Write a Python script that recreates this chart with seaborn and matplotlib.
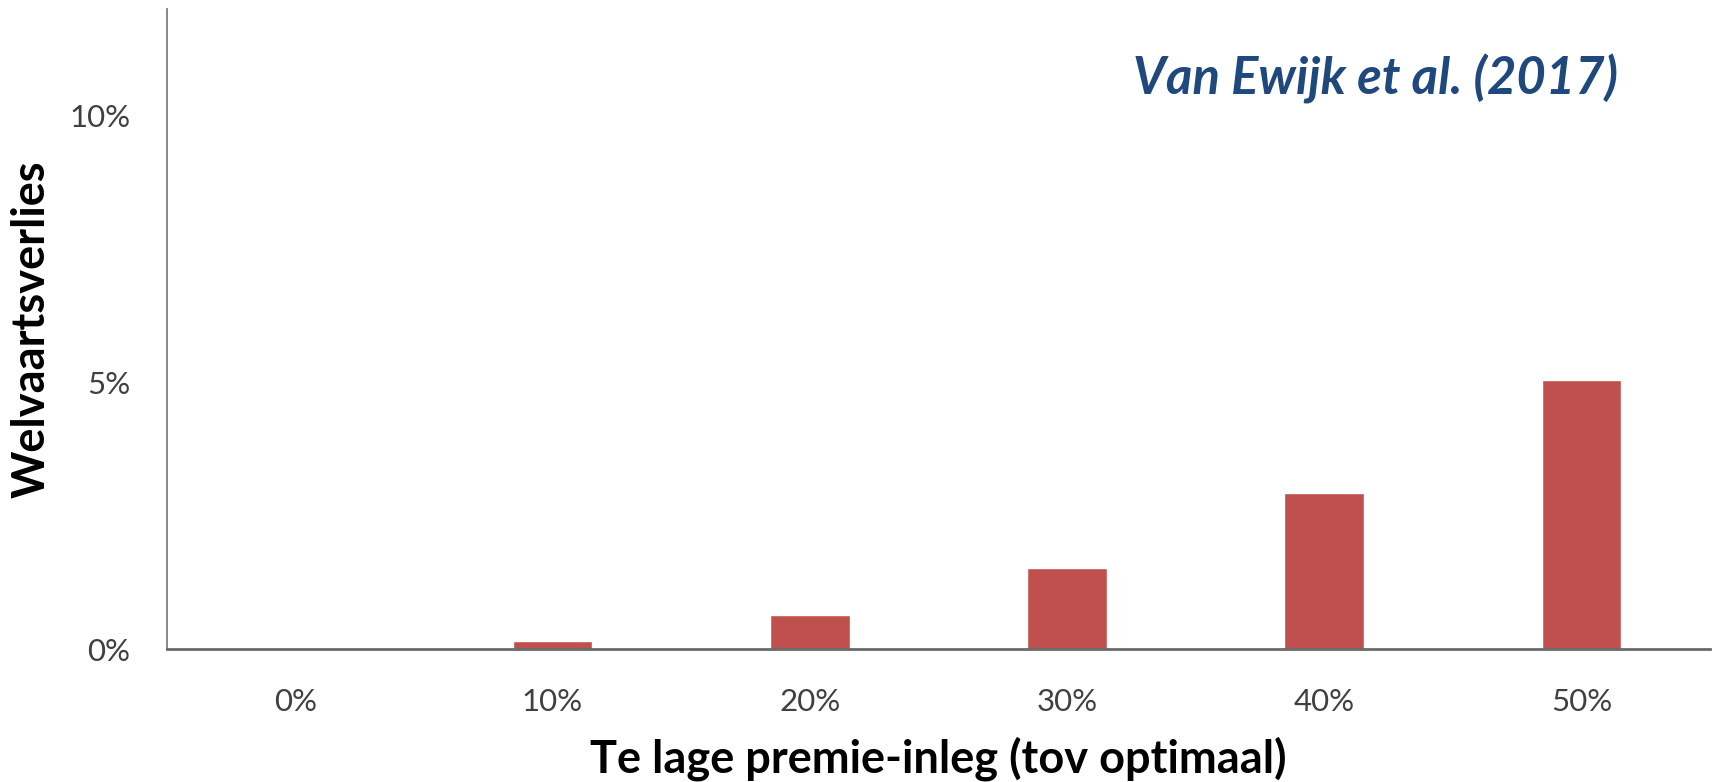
import matplotlib
matplotlib.use("Agg")
import matplotlib.pyplot as plt
import seaborn as sns
import pandas as pd

categories = ["0%", "10%", "20%", "30%", "40%", "50%"]
welfare_loss = [0.0, 0.15, 0.63, 1.52, 2.93, 5.04]
ytick_values = [0, 5, 10]
ytick_labels = ["0%", "5%", "10%"]

sns.set_theme(style="white")
plt.rcParams["font.family"] = ["Lato", "DejaVu Sans"]

df = pd.DataFrame({"cat": categories, "val": welfare_loss})

fig = plt.figure(figsize=(17.17, 7.82), dpi=100)
ax = fig.add_axes([0.097, 0.170, 0.899, 0.8185])

sns.barplot(data=df, x="cat", y="val", color="#C0504D", saturation=1,
            width=0.31, ax=ax)

ax.set_xlim(-0.5, 5.5)
ax.set_ylim(0, 12)
ax.set_yticks(ytick_values)
ax.set_yticklabels(ytick_labels)
ax.tick_params(axis="both", length=0, labelsize=22.5, labelcolor="#404040")
ax.tick_params(axis="x", pad=28)
ax.tick_params(axis="y", pad=26)

for s in ["top", "right"]:
    ax.spines[s].set_visible(False)
ax.spines["left"].set_color("#7f7f7f")
ax.spines["left"].set_linewidth(1.3)
ax.spines["bottom"].set_color("#6a6a6a")
ax.spines["bottom"].set_linewidth(2)

ax.set_xlabel("Te lage premie-inleg (tov optimaal)", fontsize=32.5,
              fontweight="bold", color="black", labelpad=15)
ax.set_ylabel("Welvaartsverlies", fontsize=32.5, fontweight="bold",
              color="black", labelpad=12)

ax.text(0.94, 0.89, "Van Ewijk et al. (2017)", transform=ax.transAxes,
        ha="right", va="center", fontsize=36.5, fontweight="bold",
        fontstyle="italic", color="#1F497D")

fig.savefig("out.png", dpi=100)
